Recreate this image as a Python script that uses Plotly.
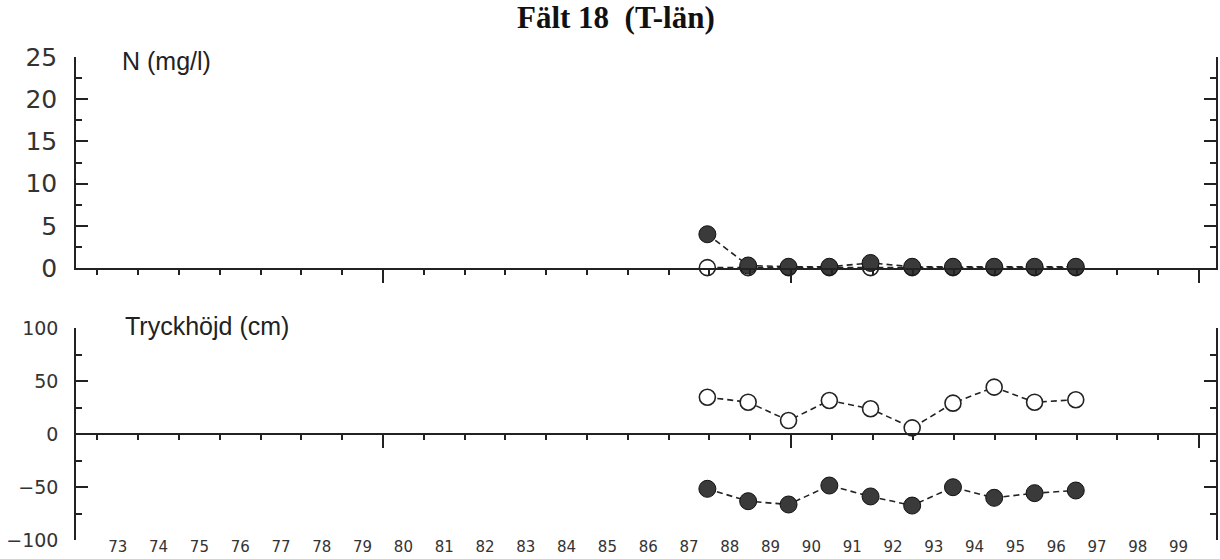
import plotly.graph_objects as go

# Provtagningstidpunkter (decimalår)
ar = [1987.95, 1988.95, 1989.94, 1990.94, 1991.95, 1992.97, 1993.97, 1994.98, 1995.97, 1996.98]

# Kväve (mg/l)
n_fylld = [4.0, 0.3, 0.15, 0.15, 0.6, 0.15, 0.15, 0.15, 0.15, 0.15]
n_oppen = [0.05, 0.05, 0.05, 0.05, 0.05, 0.05, 0.05, 0.05, 0.05, 0.05]

# Tryckhöjd (cm)
tryck_oppen = [34.7, 30.0, 12.7, 31.6, 23.8, 5.8, 29.1, 44.2, 30.0, 32.3]
tryck_fylld = [-51.7, -63.4, -66.5, -48.6, -58.9, -67.5, -50.2, -60.2, -55.8, -53.3]

# x-axelns etiketter, centrerade mitt i varje år
etikett_ar = [1973.5, 1974.5, 1975.5, 1976.5, 1977.5, 1978.5, 1979.5, 1980.5, 1981.5,
              1982.5, 1983.5, 1984.5, 1985.5, 1986.5, 1987.5, 1988.5, 1989.5, 1990.5,
              1991.5, 1992.5, 1993.5, 1994.5, 1995.5, 1996.5, 1997.5, 1998.5, 1999.5]
etikett_text = ["73", "74", "75", "76", "77", "78", "79", "80", "81", "82", "83", "84",
                "85", "86", "87", "88", "89", "90", "91", "92", "93", "94", "95", "96",
                "97", "98", "99"]

INK = "#222222"
FILL = "#3a3a3a"
XRANGE = [1972.475, 2000.417]

line_style = dict(color=INK, width=1.6, dash="6px,4px")
open_marker = dict(symbol="circle", size=16, color="white", line=dict(color=INK, width=1.6))
filled_marker = dict(symbol="circle", size=17, color=FILL, line=dict(color="#111111", width=1))

fig = go.Figure()

fig.add_trace(go.Scatter(x=ar, y=n_oppen, mode="lines+markers", line=line_style,
                         marker=open_marker, xaxis="x", yaxis="y", cliponaxis=False,
                         showlegend=False))
fig.add_trace(go.Scatter(x=ar, y=n_fylld, mode="lines+markers", line=line_style,
                         marker=filled_marker, xaxis="x", yaxis="y", cliponaxis=False,
                         showlegend=False))
fig.add_trace(go.Scatter(x=ar, y=tryck_oppen, mode="lines+markers", line=line_style,
                         marker=open_marker, xaxis="x2", yaxis="y2", cliponaxis=False,
                         showlegend=False))
fig.add_trace(go.Scatter(x=ar, y=tryck_fylld, mode="lines+markers", line=line_style,
                         marker=filled_marker, xaxis="x2", yaxis="y2", cliponaxis=False,
                         showlegend=False))
# tom serie som bär etikettaxeln längst ned
fig.add_trace(go.Scatter(x=[XRANGE[0]], y=[None], mode="markers", xaxis="x3", yaxis="y2",
                         showlegend=False, hoverinfo="skip"))

x_ticks = dict(
    range=XRANGE, showgrid=False, zeroline=False, showline=True, linecolor=INK, linewidth=1.5,
    tickmode="linear", tick0=1980, dtick=10, ticks="outside", ticklen=13, tickwidth=1.5,
    tickcolor=INK, showticklabels=False, automargin=False,
    minor=dict(tickmode="linear", tick0=1973, dtick=1, ticks="outside", ticklen=5,
               tickwidth=1.5, tickcolor=INK),
)

fig.update_layout(
    width=1220, height=559,
    margin=dict(l=76, r=4, t=57, b=19),
    paper_bgcolor="white", plot_bgcolor="white",
    xaxis=dict(domain=[0, 1], anchor="y", **x_ticks),
    yaxis=dict(
        domain=[0.5631, 1], anchor="x", range=[0, 25], showgrid=False, zeroline=False,
        showline=True, linecolor=INK, linewidth=1.5, mirror="ticks", automargin=False,
        tickmode="linear", tick0=0, dtick=5, ticks="inside", ticklen=12, tickwidth=1.5,
        tickcolor=INK, ticklabelstandoff=12,
        tickfont=dict(family="DejaVu Sans", size=25, color="#333333"),
        minor=dict(tickmode="linear", tick0=0, dtick=2.5, ticks="inside", ticklen=6,
                   tickwidth=1.5, tickcolor=INK),
    ),
    xaxis2=dict(domain=[0, 1], anchor="free", position=0.2195, **x_ticks),
    yaxis2=dict(
        domain=[0, 0.4389], anchor="x2", range=[-100, 100], showgrid=False, zeroline=False,
        showline=True, linecolor=INK, linewidth=1.5, mirror="ticks", automargin=False,
        tickmode="linear", tick0=0, dtick=50, ticks="inside", ticklen=12, tickwidth=1.5,
        tickcolor=INK, ticklabelstandoff=12,
        tickfont=dict(family="DejaVu Sans", size=19, color="#333333"),
        minor=dict(tickmode="linear", tick0=0, dtick=25, ticks="inside", ticklen=6,
                   tickwidth=1.5, tickcolor=INK),
    ),
    xaxis3=dict(
        domain=[0, 1], anchor="free", position=0.008, overlaying="x2", side="bottom",
        range=XRANGE, showgrid=False, zeroline=False, showline=False, ticks="",
        automargin=False, tickmode="array", tickvals=etikett_ar, ticktext=etikett_text,
        tickfont=dict(family="DejaVu Sans", size=15, color="#333333"),
    ),
    annotations=[
        dict(text="<b>Fält 18\u00a0\u00a0(T-län)</b>", xref="paper", yref="paper",
             x=0.4737, y=1.0828, xanchor="center", yanchor="middle", showarrow=False,
             font=dict(family="Liberation Serif", size=31, color="#111111")),
        dict(text="N (mg/l)", xref="paper", yref="paper", x=0.0386, y=0.9917,
             xanchor="left", yanchor="middle", showarrow=False,
             font=dict(family="Liberation Sans", size=25, color="#222222")),
        dict(text="Tryckhöjd (cm)", xref="paper", yref="paper", x=0.0412, y=0.443,
             xanchor="left", yanchor="middle", showarrow=False,
             font=dict(family="Liberation Sans", size=25, color="#222222")),
    ],
)

fig.write_html("out.html")
